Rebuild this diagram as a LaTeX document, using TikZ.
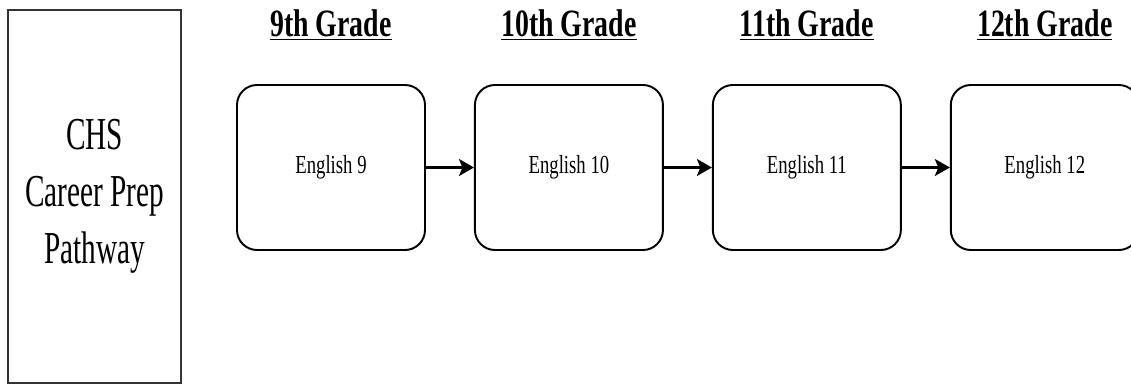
\documentclass[tikz,border=0pt]{standalone}
\usepackage{fontspec}
\setmainfont{Liberation Serif}[FakeStretch=0.72]
\newfontfamily\pathfont{Liberation Serif}[FakeStretch=0.64]
\usetikzlibrary{positioning,arrows.meta}

\begin{document}
\begin{tikzpicture}[
    node distance=0.96cm,
    course/.style={rectangle, draw, line width=1.1pt, rounded corners=0.4cm, minimum width=3.76cm, minimum height=3.3cm, align=center, font=\fontsize{14.8}{17}\selectfont},
    pathway/.style={rectangle, draw=black!80, line width=1.1pt, minimum width=3.46cm, minimum height=7.46cm, align=center, font=\pathfont\fontsize{26}{32.4}\selectfont},
    grade/.style={inner sep=0pt, font=\fontsize{22}{26}\selectfont\bfseries},
    arrow/.style={-{Stealth[length=0.3cm,width=0.34cm,inset=0.07cm]}, line width=1.3pt}
]
    \useasboundingbox (0,0) rectangle (22.62,-7.7);

    % Riquadro a sinistra
    \node[pathway] (path) at (1.89,-3.93) {CHS\\Career Prep\\Pathway};

    % Corsi di inglese
    \node[course] (eng9) at (6.62,-3.35) {English 9};
    \node[course, right=of eng9] (eng10) {English 10};
    \node[course, right=of eng10] (eng11) {English 11};
    \node[course, right=of eng11] (eng12) {English 12};

    % Anni scolastici
    \node[grade, above=0.86cm of eng9] (g9) {\underline{9th Grade}};
    \node[grade, above=0.86cm of eng10] (g10) {\underline{10th Grade}};
    \node[grade, above=0.86cm of eng11] (g11) {\underline{11th Grade}};
    \node[grade, above=0.86cm of eng12] (g12) {\underline{12th Grade}};

    % Frecce
    \draw[arrow] (eng9) -- (eng10);
    \draw[arrow] (eng10) -- (eng11);
    \draw[arrow] (eng11) -- (eng12);
\end{tikzpicture}
\end{document}
